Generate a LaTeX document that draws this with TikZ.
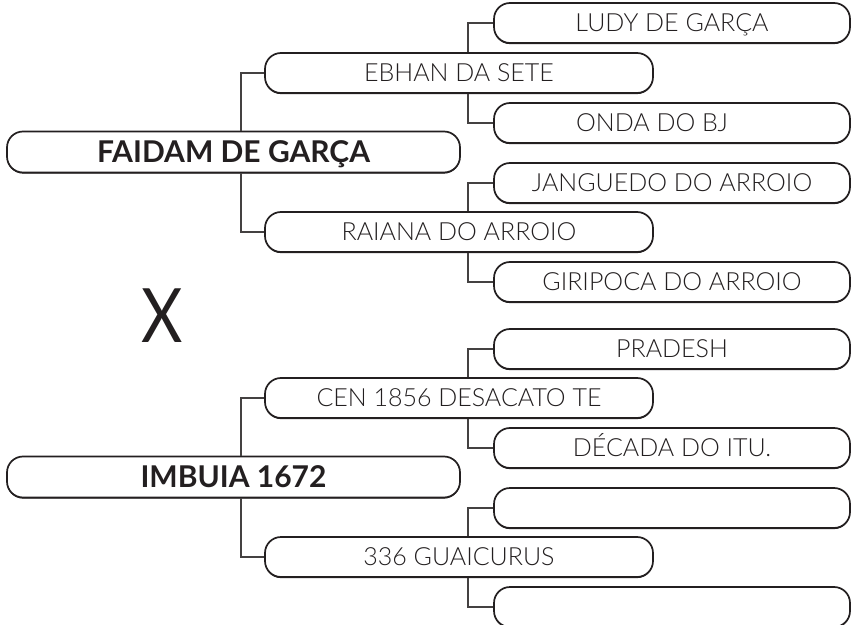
\documentclass[tikz,border=0pt]{standalone}
\usepackage{fontspec}
\setmainfont{Lato}[UprightFont={* Light},BoldFont={* Bold}]
\newfontfamily\xfont{Lato}
\usetikzlibrary{shadows}
\definecolor{ink}{HTML}{231F20}
\begin{document}
\begin{tikzpicture}[x=1bp,y=-1bp,
 box/.style={draw=ink, line width=1.7bp, fill=white, rounded corners=16bp, inner sep=0pt, text=ink,
   text depth=0pt, general shadow={shadow yshift=-1.1bp, fill=ink}},
 rootbox/.style={box, minimum width=453bp, minimum height=41bp, text height=21.5bp,
   font=\fontsize{30bp}{34bp}\selectfont\bfseries},
 midbox/.style={box, minimum width=388bp, minimum height=40bp, text height=17.9bp,
   font=\fontsize{25bp}{30bp}\selectfont},
 leafbox/.style={box, minimum width=356bp, minimum height=40bp, text height=17.9bp,
   font=\fontsize{25bp}{30bp}\selectfont},
 link/.style={draw=ink!85, line width=1.2bp}]
\useasboundingbox (0,0) rectangle (851,625);
\fill[white] (0,0) rectangle (851,625);

\coordinate (jr) at (241,0);
\coordinate (jm) at (468,0);

% first tree
\node[rootbox] (r1) at (233.5,152) {FAIDAM DE GARÇA};
\node[midbox] (m1) at (459,73) {EBHAN DA SETE};
\node[midbox] (m2) at (459,232) {RAIANA DO ARROIO};
\node[leafbox] (l1) at (672,23) {LUDY DE GARÇA};
\node[leafbox] (l2) at (672,123) {\hspace*{-40bp}ONDA DO BJ};
\node[leafbox] (l3) at (672,183) {JANGUEDO DO ARROIO};
\node[leafbox] (l4) at (672,282) {GIRIPOCA DO ARROIO};

% second tree
\node[rootbox] (r2) at (233.5,477) {IMBUIA 1672};
\node[midbox] (m3) at (459,398) {CEN 1856 DESACATO TE};
\node[midbox] (m4) at (459,557) {336 GUAICURUS};
\node[leafbox] (l5) at (672,349) {PRADESH};
\node[leafbox] (l6) at (672,448) {DÉCADA DO ITU.};
\node[leafbox] (l7) at (672,508) {};
\node[leafbox] (l8) at (672,607) {};

\node[text=ink, font=\fontsize{75bp}{80bp}\xfont, inner sep=0pt, text height=54bp, text depth=0pt, xscale=0.85] (x) at (162,315) {X};

% connectors
\draw[link] (r1.north -| jr) |- (m1.west);
\draw[link] (r1.south -| jr) |- (m2.west);
\draw[link] (m1.north -| jm) |- (l1.west);
\draw[link] (m1.south -| jm) |- (l2.west);
\draw[link] (m2.north -| jm) |- (l3.west);
\draw[link] (m2.south -| jm) |- (l4.west);
\draw[link] (r2.north -| jr) |- (m3.west);
\draw[link] (r2.south -| jr) |- (m4.west);
\draw[link] (m3.north -| jm) |- (l5.west);
\draw[link] (m3.south -| jm) |- (l6.west);
\draw[link] (m4.north -| jm) |- (l7.west);
\draw[link] (m4.south -| jm) |- (l8.west);
\end{tikzpicture}
\end{document}
